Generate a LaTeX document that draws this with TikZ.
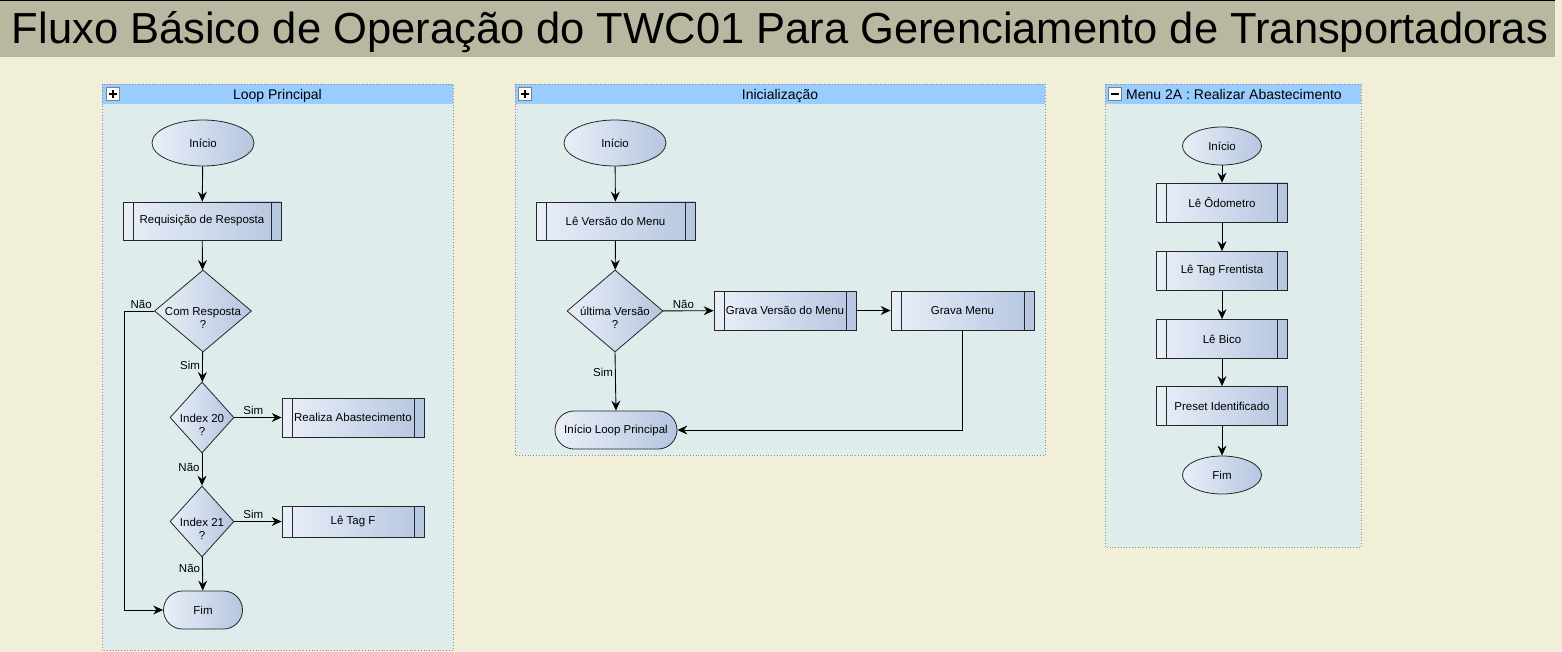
\documentclass[tikz,border=0pt]{standalone}
\usepackage{fontspec}
\setmainfont{Liberation Sans}
\usepackage{xcolor}
\usetikzlibrary{shapes.geometric,arrows.meta,positioning}
\definecolor{paper}{HTML}{F2EFD9}
\definecolor{titlebar}{HTML}{B8B7A0}
\definecolor{panelbg}{HTML}{DEEDEC}
\definecolor{panelhd}{HTML}{99CCFF}
\definecolor{shadeL}{HTML}{EAEFF8}
\definecolor{shadeR}{HTML}{B5C6E0}

\begin{document}
\begin{tikzpicture}[x=1pt,y=-1pt,
    every node/.style={font=\fontsize{11.5}{13}\selectfont},
    terminal/.style={ellipse,draw=black!85,line width=0.8pt,left color=shadeL,right color=shadeR,inner sep=0pt},
    stopbox/.style={rectangle,rounded corners=19pt,draw=black!85,line width=0.8pt,left color=shadeL,right color=shadeR,minimum height=38pt},
    proc/.style={rectangle,draw=black!85,line width=0.8pt,left color=shadeL,right color=shadeR,minimum height=39pt,
      path picture={
        \draw[black!85,line width=0.8pt] ([xshift=10pt]path picture bounding box.north west) -- ([xshift=10pt]path picture bounding box.south west);
        \draw[black!85,line width=0.8pt] ([xshift=-10pt]path picture bounding box.north east) -- ([xshift=-10pt]path picture bounding box.south east);}},
    decision/.style={diamond,draw=black!85,line width=0.8pt,left color=shadeL,right color=shadeR,inner sep=0pt},
    dtext/.style={align=center,inner sep=0pt},
    flow/.style={line width=0.9pt,-{Stealth[length=10pt,width=9pt,inset=3.5pt]}},
    lbl/.style={inner sep=2pt},
    hdr/.style={font=\fontsize{14}{16}\selectfont,anchor=base},
    panel/.style={draw=black!45,dotted,line width=0.8pt},
    iconbox/.style={draw=black!50,fill=white,minimum size=13pt,inner sep=0pt}
  ]
  \useasboundingbox (0,0) rectangle (1562,652);
  \fill[paper] (0,0) rectangle (1562,652);

  % Title bar
  \fill[titlebar] (0,0) rectangle (1555,57);
  \draw[line width=1.5pt] (0,0.75) -- (1555,0.75);
  \node[font=\fontsize{43.5}{50}\selectfont,anchor=base] (title) at (780,44) {Fluxo Básico de Operação do TWC01 Para Gerenciamento de Transportadoras};

  % Panels
  \fill[panelbg] (102,84) rectangle (453,650);
  \fill[panelhd] (102,84) rectangle (453,104);
  \draw[panel] (102,84) rectangle (453,650);
  \fill[panelbg] (515,84) rectangle (1045,455);
  \fill[panelhd] (515,84) rectangle (1045,104);
  \draw[panel] (515,84) rectangle (1045,455);
  \fill[panelbg] (1105,84) rectangle (1361,547);
  \fill[panelhd] (1105,84) rectangle (1361,104);
  \draw[panel] (1105,84) rectangle (1361,547);

  \node[hdr] (h1) at (277.5,99.5) {Loop Principal};
  \node[hdr] (h2) at (780,99.5) {Inicialização};
  \node[hdr] (h3) at (1234,99.5) {Menu 2A : Realizar Abastecimento};
  \node[iconbox] (i1) at (113,94) {};
  \node[iconbox] (i2) at (525,94) {};
  \node[iconbox] (i3) at (1115,94) {};
  \draw[line width=1.8pt] ([xshift=-4pt]i1.center) -- ([xshift=4pt]i1.center) ([yshift=-4pt]i1.center) -- ([yshift=4pt]i1.center);
  \draw[line width=1.8pt] ([xshift=-4pt]i2.center) -- ([xshift=4pt]i2.center) ([yshift=-4pt]i2.center) -- ([yshift=4pt]i2.center);
  \draw[line width=1.8pt] ([xshift=-4pt]i3.center) -- ([xshift=4pt]i3.center);

  % Loop Principal
  \node[terminal,minimum width=102pt,minimum height=46pt] (s1) at (203,143) {Início};
  \node[proc,minimum width=158pt,minimum height=38pt] (p1) at (202,221) {Requisição de Resposta};
  \node[decision,minimum width=97pt,minimum height=82pt,aspect=1.18] (q1) at (203,311) {};
  \node[decision,minimum width=64pt,minimum height=71pt,aspect=0.9] (q2) at (202,417.5) {};
  \node[decision,minimum width=64pt,minimum height=71pt,aspect=0.9] (q3) at (202,521.5) {};
  \node[dtext] (q1t) at ([yshift=-7pt]q1.center) {Com Resposta\\?};
  \node[dtext] (q2t) at ([yshift=-7pt]q2.center) {Index 20\\?};
  \node[dtext] (q3t) at ([yshift=-7pt]q3.center) {Index 21\\?};
  \node[proc,minimum width=142pt] (r1) at (353,417.5) {Realiza Abastecimento};
  \node[proc,minimum width=142pt,minimum height=31pt] (r2) at (353,521.5) {Lê Tag F};
  \node[stopbox,minimum width=79pt] (e1) at (203,610) {Fim};
  \coordinate (lp) at (124,311);

  \draw[flow] (s1) -- (p1);
  \draw[flow] (p1) -- (q1);
  \draw[flow] (q1) -- node[lbl,left,pos=0.45] {Sim} (q2);
  \draw[flow] (q2) -- node[lbl,above,pos=0.4] {Sim} (r1);
  \draw[flow] (q2) -- node[lbl,left,pos=0.45] {Não} (q3);
  \draw[flow] (q3) -- node[lbl,above,pos=0.4] {Sim} (r2);
  \draw[flow] (q3) -- node[lbl,left,pos=0.35] {Não} (e1);
  \draw[flow] (q1.west) node[lbl,above left] {Não} -- (lp) |- (e1.west);

  % Inicializacao
  \node[terminal,minimum width=102pt,minimum height=46pt] (s2) at (615,143) {Início};
  \node[proc,minimum width=159pt,minimum height=38pt] (p2) at (615.5,221) {Lê Versão do Menu};
  \node[decision,minimum width=96pt,minimum height=82pt,aspect=1.17] (q4) at (615,311) {};
  \node[dtext] (q4t) at ([yshift=-7pt]q4.center) {última Versão\\?};
  \node[proc,minimum width=142pt] (g1) at (785,310.5) {Grava Versão do Menu};
  \node[proc,minimum width=143pt] (g2) at (962.5,310.5) {Grava Menu};
  \node[stopbox,minimum width=122pt] (l2) at (616,430) {Início Loop Principal};

  \draw[flow] (s2) -- (p2);
  \draw[flow] (p2) -- (q4);
  \draw[flow] (q4) -- node[lbl,above,pos=0.4] {Não} (g1);
  \draw[flow] (g1) -- (g2);
  \draw[flow] (q4.south) -- node[lbl,left,pos=0.35] {Sim} (l2.north);
  \draw[flow] (g2.south) |- (l2.east);

  % Menu 2A
  \node[terminal,minimum width=79pt,minimum height=38pt] (s3) at (1222,146) {Início};
  \node[proc,minimum width=131pt] (m1) at (1222,202.5) {Lê Ôdometro};
  \node[proc,minimum width=131pt] (m2) at (1222,271) {Lê Tag Frentista};
  \node[proc,minimum width=131pt] (m3) at (1222,339) {Lê Bico};
  \node[proc,minimum width=131pt] (m4) at (1222,406) {Preset Identificado};
  \node[terminal,minimum width=79pt,minimum height=38pt] (e3) at (1222,475) {Fim};

  \draw[flow] (s3) -- (m1);
  \draw[flow] (m1) -- (m2);
  \draw[flow] (m2) -- (m3);
  \draw[flow] (m3) -- (m4);
  \draw[flow] (m4) -- (e3);
\end{tikzpicture}
\end{document}
